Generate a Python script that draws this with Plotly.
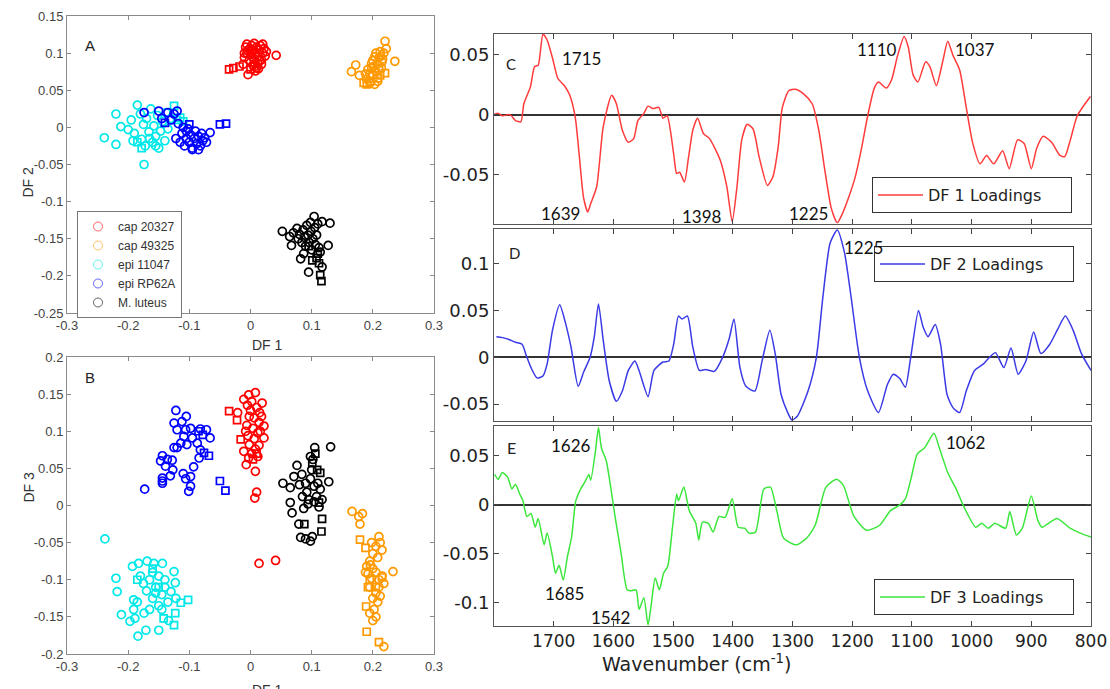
import plotly.graph_objects as go

W, H = 1110, 689

# ---------------- scatter data (DF1, DF2) panel A ----------------
a_cap20327 = [(-0.012,0.085),(-0.010,0.094),(-0.006,0.100),(-0.008,0.108),(-0.004,0.104),(0.000,0.098),(0.002,0.110),
              (0.004,0.104),(0.006,0.092),(0.008,0.100),(0.010,0.108),(0.012,0.096),(0.014,0.104),(0.016,0.110),
              (0.018,0.091),(0.020,0.100),(0.022,0.106),(0.024,0.096),(0.026,0.102),(0.012,0.086),(0.004,0.084),
              (-0.002,0.090),(-0.004,0.071),(0.008,0.076),(0.010,0.080),(0.042,0.097),(-0.006,0.112),(0.020,0.112),
              (0.015,0.090),(0.003,0.095),(-0.010,0.100),(0.018,0.085),(0.006,0.113),(-0.001,0.106),(0.013,0.079)]
a_cap20327_sq = [(-0.035,0.078),(-0.028,0.080),(-0.018,0.082),(0.000,0.078),(0.006,0.082)]
a_cap49325 = [(0.165,0.075),(0.172,0.084),(0.178,0.070),(0.190,0.065),(0.195,0.072),(0.198,0.080),(0.200,0.090),
              (0.203,0.058),(0.205,0.075),(0.207,0.085),(0.210,0.094),(0.212,0.102),(0.214,0.080),(0.216,0.092),
              (0.218,0.100),(0.220,0.116),(0.222,0.106),(0.236,0.089),(0.192,0.078),(0.200,0.070),(0.210,0.078),
              (0.205,0.100),(0.215,0.088),(0.188,0.072),(0.198,0.086),(0.203,0.095),(0.196,0.060),(0.208,0.062),
              (0.213,0.096),(0.201,0.082)]
a_cap49325_sq = [(0.185,0.060),(0.220,0.073),(0.208,0.066),(0.195,0.062),(0.212,0.070),(0.190,0.058)]
a_epi11047 = [(-0.239,-0.014),(-0.220,-0.023),(-0.220,0.018),(-0.212,0.001),(-0.174,-0.050),(-0.200,-0.003),
              (-0.195,0.010),(-0.190,-0.008),(-0.185,0.030),(-0.180,0.018),(-0.178,-0.016),(-0.175,0.004),
              (-0.172,-0.025),(-0.170,0.012),(-0.166,-0.006),(-0.163,0.025),(-0.160,-0.020),(-0.158,0.002),
              (-0.155,-0.012),(-0.152,0.016),(-0.150,-0.028),(-0.147,-0.005),(-0.144,0.008),(-0.140,-0.018),
              (-0.138,0.020),(-0.135,-0.002),(-0.130,0.012),(-0.165,-0.015),(-0.155,-0.025),(-0.192,-0.018)]
a_epi11047_sq = [(-0.125,0.029),(-0.120,0.010),(-0.115,0.013),(-0.185,-0.020),(-0.178,-0.028),(-0.110,0.008)]
a_epiRP62A = [(-0.174,0.020),(-0.150,0.022),(-0.145,0.012),(-0.135,0.020),(-0.130,0.010),(-0.125,0.018),
              (-0.120,0.022),(-0.118,0.005),(-0.122,-0.015),(-0.115,-0.020),(-0.112,-0.008),(-0.108,-0.025),
              (-0.105,-0.015),(-0.102,-0.002),(-0.100,-0.020),(-0.098,-0.010),(-0.095,-0.028),(-0.092,-0.015),
              (-0.090,-0.005),(-0.088,-0.022),(-0.085,-0.012),(-0.082,-0.025),(-0.080,-0.008),(-0.078,-0.018),
              (-0.075,-0.014),(-0.072,-0.020),(-0.066,-0.007),(-0.110,0.000),(-0.095,-0.030),(-0.085,-0.030),
              (-0.105,-0.005)]
a_epiRP62A_sq = [(-0.140,0.006),(-0.050,0.004),(-0.040,0.005),(-0.100,0.004)]
a_mluteus = [(0.052,-0.140),(0.064,-0.147),(0.067,-0.159),(0.070,-0.142),(0.076,-0.136),(0.078,-0.150),(0.080,-0.144),
             (0.082,-0.177),(0.084,-0.155),(0.086,-0.138),(0.087,-0.170),(0.088,-0.148),(0.090,-0.160),(0.092,-0.132),
             (0.094,-0.145),(0.095,-0.195),(0.096,-0.155),(0.098,-0.128),(0.099,-0.140),(0.100,-0.165),(0.102,-0.150),
             (0.104,-0.120),(0.105,-0.135),(0.106,-0.158),(0.108,-0.145),(0.110,-0.130),(0.112,-0.162),(0.114,-0.168),
             (0.117,-0.127),(0.117,-0.188),(0.127,-0.159),(0.130,-0.129)]
a_mluteus_sq = [(0.101,-0.179),(0.108,-0.176),(0.112,-0.183),(0.114,-0.199),(0.116,-0.207),(0.110,-0.170),(0.095,-0.160)]

# ---------------- scatter data (DF1, DF3) panel B ----------------
b_cap20327 = [(-0.021,0.125),(-0.011,0.143),(-0.003,0.149),(0.008,0.152),(0.019,0.138),(0.015,0.125),(0.022,0.107),
              (0.022,0.091),(0.014,0.081),(-0.011,0.073),(-0.003,0.064),(-0.007,0.055),(0.008,0.046),(0.010,0.018),
              (0.007,0.010),(0.014,-0.078),(0.041,-0.074),(-0.005,0.135),(0.002,0.140),(0.010,0.132),(-0.002,0.120),
              (0.006,0.118),(0.014,0.112),(-0.006,0.108),(0.004,0.104),(0.012,0.098),(-0.004,0.094),(0.006,0.090),
              (0.016,0.100),(-0.002,0.082),(0.008,0.076),(0.002,0.070),(0.012,0.066),(-0.008,0.100),(0.000,0.128),
              (0.018,0.120)]
b_cap20327_sq = [(-0.035,0.127),(-0.022,0.115),(-0.016,0.089),(0.004,0.062),(0.010,0.070)]
b_cap49325 = [(0.166,-0.008),(0.177,-0.015),(0.183,-0.011),(0.179,-0.025),(0.233,-0.089),(0.218,-0.190),(0.210,-0.042),
              (0.212,-0.050),(0.205,-0.055),(0.198,-0.050),(0.215,-0.060),(0.200,-0.065),(0.208,-0.070),(0.195,-0.075),
              (0.190,-0.082),(0.200,-0.085),(0.192,-0.092),(0.198,-0.098),(0.205,-0.090),(0.215,-0.095),(0.218,-0.105),
              (0.210,-0.110),(0.195,-0.110),(0.205,-0.118),(0.200,-0.125),(0.212,-0.122),(0.208,-0.130),(0.202,-0.140),
              (0.205,-0.150),(0.200,-0.155),(0.195,-0.145),(0.210,-0.100),(0.188,-0.090),(0.196,-0.080)]
b_cap49325_sq = [(0.179,-0.046),(0.188,-0.057),(0.189,-0.136),(0.190,-0.170),(0.210,-0.184),(0.215,-0.097),
                 (0.195,-0.100),(0.205,-0.110),(0.192,-0.110)]
b_epi11047 = [(-0.238,-0.045),(-0.220,-0.098),(-0.218,-0.116),(-0.211,-0.147),(-0.197,-0.156),(-0.191,-0.140),
              (-0.189,-0.152),(-0.184,-0.176),(-0.171,-0.168),(-0.150,-0.168),(-0.193,-0.082),(-0.183,-0.078),
              (-0.169,-0.075),(-0.158,-0.078),(-0.144,-0.078),(-0.125,-0.089),(-0.123,-0.104),(-0.130,-0.116),
              (-0.122,-0.125),(-0.134,-0.155),(-0.174,-0.145),(-0.191,-0.127),(-0.180,-0.095),(-0.175,-0.105),
              (-0.165,-0.100),(-0.160,-0.090),(-0.155,-0.110),(-0.150,-0.095),(-0.145,-0.120),(-0.140,-0.100),
              (-0.135,-0.130),(-0.160,-0.125),(-0.170,-0.115),(-0.150,-0.135),(-0.145,-0.140),(-0.185,-0.130),
              (-0.165,-0.140),(-0.155,-0.118),(-0.140,-0.110)]
b_epi11047_sq = [(-0.114,-0.131),(-0.102,-0.127),(-0.123,-0.145),(-0.125,-0.161),(-0.142,-0.152),(-0.185,-0.100),
                 (-0.160,-0.085),(-0.150,-0.110)]
b_epiRP62A = [(-0.122,0.128),(-0.105,0.120),(-0.125,0.111),(-0.112,0.113),(-0.120,0.102),(-0.106,0.102),(-0.098,0.104),
              (-0.082,0.103),(-0.072,0.102),(-0.066,0.091),(-0.109,0.093),(-0.095,0.091),(-0.087,0.084),(-0.114,0.084),
              (-0.104,0.082),(-0.125,0.078),(-0.120,0.078),(-0.082,0.075),(-0.144,0.067),(-0.147,0.060),(-0.136,0.062),
              (-0.128,0.061),(-0.139,0.053),(-0.127,0.048),(-0.131,0.040),(-0.144,0.037),(-0.144,0.033),(-0.144,0.030),
              (-0.110,0.043),(-0.106,0.036),(-0.098,0.039),(-0.093,0.052),(-0.084,0.064),(-0.098,0.026),(-0.101,0.019),
              (-0.173,0.022)]
b_epiRP62A_sq = [(-0.050,0.033),(-0.041,0.020),(-0.076,0.071),(-0.068,0.067),(-0.085,0.100),(-0.078,0.095)]
b_mluteus = [(0.105,0.078),(0.131,0.079),(0.128,0.032),(0.053,0.030),(0.065,0.024),(0.071,0.039),(0.076,0.054),
             (0.084,0.042),(0.090,0.030),(0.098,0.066),(0.104,0.026),(0.114,0.022),(0.117,0.008),(0.065,0.004),
             (0.068,-0.010),(0.079,-0.025),(0.082,-0.043),(0.090,-0.045),(0.098,-0.048),(0.101,-0.042),(0.087,-0.004),
             (0.104,0.005),(0.092,0.018),(0.098,0.036),(0.108,0.012),(0.095,0.008),(0.100,0.048),(0.110,0.030),
             (0.085,0.012),(0.102,0.062),(0.094,0.002),(0.112,-0.002),(0.080,0.028)]
b_mluteus_sq = [(0.101,0.057),(0.109,0.048),(0.114,0.044),(0.088,-0.025),(0.117,-0.018),(0.116,-0.035),(0.106,0.070),
                (0.112,0.004)]

group_names = ["cap 20327", "cap 49325", "epi 11047", "epi RP62A", "M. luteus"]
group_colors = ["#ff0000", "#ff9900", "#00e8e8", "#0000ff", "#000000"]

# ---------------- loadings spectra ----------------
wn_df1 = [1800,1793,1786,1775,1771,1764,1755,1750,1739,1732,1726,1718,1711,1702,1693,1682,1673,1664,1657,1650,
          1643,1638,1628,1617,1603,1595,1585,1575,1566,1559,1549,1542,1534,1524,1517,1510,1499,1494,1489,1481,
          1474,1467,1459,1449,1439,1421,1410,1401,1393,1385,1376,1366,1356,1342,1333,1324,1317,1306,1295,1281,
          1267,1256,1245,1235,1225,1217,1206,1195,1184,1174,1163,1156,1143,1134,1124,1113,1106,1098,1090,1077,
          1070,1059,1048,1040,1031,1020,1009,998,986,975,963,948,937,923,912,900,891,880,866,852,
          844,834,823,801]
df1 = [0.000,0.001,-0.001,0.000,-0.001,-0.005,-0.006,0.009,0.023,0.040,
       0.041,0.067,0.062,0.047,0.030,0.024,0.016,-0.002,-0.035,-0.069,
       -0.081,-0.074,-0.060,-0.010,0.016,0.009,-0.013,-0.023,-0.020,-0.005,
       0.001,0.007,0.005,0.006,-0.003,-0.001,-0.033,-0.049,-0.048,-0.056,
       -0.035,-0.013,-0.003,-0.016,-0.020,-0.038,-0.060,-0.089,-0.060,-0.021,
       -0.008,-0.012,-0.035,-0.059,-0.052,-0.027,0.006,0.020,0.021,0.017,
       0.009,-0.013,-0.049,-0.078,-0.090,-0.083,-0.069,-0.052,-0.027,-0.001,
       0.022,0.027,0.022,0.029,0.049,0.065,0.056,0.033,0.027,0.044,
       0.040,0.024,0.045,0.061,0.049,0.037,0.006,-0.024,-0.041,-0.034,
       -0.041,-0.030,-0.045,-0.021,-0.024,-0.045,-0.028,-0.018,-0.023,-0.034,
       -0.035,-0.020,-0.001,0.015]

wn_df2 = [1796,1786,1775,1764,1753,1746,1738,1728,1718,1711,1702,1690,1680,1671,1659,1650,1639,1632,1625,1617,
          1607,1595,1585,1575,1564,1557,1542,1532,1517,1507,1499,1491,1485,1476,1467,1456,1446,1431,1417,1406,
          1398,1388,1378,1363,1351,1338,1329,1319,1308,1301,1292,1274,1260,1249,1237,1225,1213,1202,1188,1174,
          1156,1141,1131,1120,1111,1102,1089,1081,1073,1061,1052,1041,1031,1020,1009,995,980,970,960,946,
          934,922,909,896,884,869,855,843,830,816,800]
df2 = [0.022,0.021,0.019,0.016,0.014,0.002,-0.011,-0.022,-0.020,-0.007,
       0.029,0.056,0.036,0.011,-0.031,-0.016,0.000,0.022,0.057,0.018,
       -0.025,-0.047,-0.036,-0.014,-0.004,-0.014,-0.042,-0.014,-0.005,-0.004,
       0.014,0.044,0.041,0.044,0.011,-0.014,-0.013,-0.015,0.000,0.020,
       0.041,-0.011,-0.031,-0.036,-0.004,0.029,0.004,-0.040,-0.059,-0.067,
       -0.063,-0.036,0.000,0.065,0.122,0.136,0.112,0.065,0.000,-0.036,
       -0.059,-0.029,-0.018,-0.023,-0.032,0.000,0.050,0.032,0.022,0.035,
       0.014,-0.040,-0.054,-0.059,-0.036,-0.014,-0.007,0.000,0.005,-0.011,
       0.010,-0.018,-0.004,0.027,0.004,0.014,0.031,0.044,0.029,0.004,
       -0.014]

wn_df3 = [1799,1793,1786,1777,1770,1764,1757,1752,1745,1738,1731,1726,1716,1711,1702,1697,1691,1684,1677,1670,
          1663,1655,1648,1641,1638,1630,1625,1620,1612,1605,1598,1587,1577,1570,1562,1557,1549,1542,1537,1530,
          1523,1516,1509,1501,1494,1491,1482,1473,1462,1457,1451,1441,1433,1423,1413,1401,1391,1380,1373,1362,
          1348,1337,1326,1315,1294,1276,1262,1244,1226,1215,1197,1176,1154,1136,1122,1111,1101,1091,1079,1063,
          1054,1040,1025,1013,993,983,972,961,943,936,925,915,900,889,882,857,835,818,800]
df3 = [0.031,0.026,0.033,0.028,0.016,0.021,0.011,0.005,-0.012,-0.009,
       -0.023,-0.014,-0.041,-0.029,-0.053,-0.070,-0.062,-0.077,-0.053,-0.033,
       0.004,0.016,0.023,0.031,0.025,0.055,0.079,0.058,0.045,0.020,
       -0.009,-0.050,-0.087,-0.088,-0.087,-0.107,-0.095,-0.123,-0.104,-0.075,
       -0.087,-0.070,-0.063,-0.023,0.011,0.004,0.018,-0.006,-0.019,-0.036,
       -0.018,-0.019,-0.028,-0.012,-0.013,0.006,-0.023,-0.024,-0.029,-0.028,
       0.016,0.018,-0.007,-0.034,-0.041,-0.034,-0.021,0.018,0.026,0.020,
       -0.012,-0.026,-0.021,-0.006,-0.001,0.006,0.028,0.052,0.058,0.073,
       0.058,0.033,0.015,-0.002,-0.023,-0.019,-0.024,-0.019,-0.024,-0.007,
       -0.031,-0.024,0.009,-0.016,-0.023,-0.014,-0.024,-0.029,-0.033]

# peak labels: (text, wavenumber position, value position)
peaks_df1 = [("1715", 1653, 0.047), ("1639", 1688, -0.082), ("1398", 1451, -0.085),
             ("1225", 1274, -0.082), ("1110", 1158, 0.054), ("1037", 995, 0.054)]
peaks_df2 = [("1225", 1181, 0.117)]
peaks_df3 = [("1626", 1671, 0.061), ("1685", 1682, -0.091), ("1542", 1605, -0.115), ("1062", 1010, 0.064)]

left_xticks = [-0.3, -0.2, -0.1, 0, 0.1, 0.2, 0.3]
a_yticks = [-0.25, -0.2, -0.15, -0.1, -0.05, 0, 0.05, 0.1, 0.15]
b_yticks = [-0.2, -0.15, -0.1, -0.05, 0, 0.05, 0.1, 0.15, 0.2]
wn_ticks = [1700, 1600, 1500, 1400, 1300, 1200, 1100, 1000, 900, 800]
c_yticks = [-0.05, 0, 0.05]
d_yticks = [-0.05, 0, 0.05, 0.1]
e_yticks = [-0.1, -0.05, 0, 0.05]


def fmt(v):
    return "%g" % v


def pxx(x):
    return x / W


def pxy(y):
    return 1 - y / H


fig = go.Figure()

a_sets = [(a_cap20327, a_cap20327_sq), (a_cap49325, a_cap49325_sq), (a_epi11047, a_epi11047_sq),
          (a_epiRP62A, a_epiRP62A_sq), (a_mluteus, a_mluteus_sq)]
b_sets = [(b_cap20327, b_cap20327_sq), (b_cap49325, b_cap49325_sq), (b_epi11047, b_epi11047_sq),
          (b_epiRP62A, b_epiRP62A_sq), (b_mluteus, b_mluteus_sq)]

for sets, xa, ya in [(a_sets, "x", "y"), (b_sets, "x2", "y2")]:
    for (circ, sq), col in zip(sets, group_colors):
        fig.add_trace(go.Scatter(x=[p[0] for p in circ], y=[p[1] for p in circ], mode="markers",
                                 marker=dict(symbol="circle-open", size=8, color=col, line=dict(width=1.7, color=col)),
                                 xaxis=xa, yaxis=ya, showlegend=False, hoverinfo="skip"))
        fig.add_trace(go.Scatter(x=[p[0] for p in sq], y=[p[1] for p in sq], mode="markers",
                                 marker=dict(symbol="square-open", size=7, color=col, line=dict(width=1.7, color=col)),
                                 xaxis=xa, yaxis=ya, showlegend=False, hoverinfo="skip"))

for name, col in zip(group_names, group_colors):
    fig.add_trace(go.Scatter(x=[None], y=[None], mode="markers", name=name,
                             marker=dict(symbol="circle-open", size=9, color=col, opacity=0.6,
                                         line=dict(width=1, color=col)),
                             xaxis="x", yaxis="y", legend="legend"))

fig.add_trace(go.Scatter(x=wn_df1, y=df1, mode="lines", name="DF 1 Loadings",
                         line=dict(color="#ff3b3b", width=1.5, shape="spline", smoothing=0.6),
                         xaxis="x3", yaxis="y3", legend="legend2"))
fig.add_trace(go.Scatter(x=wn_df2, y=df2, mode="lines", name="DF 2 Loadings",
                         line=dict(color="#3a3ae6", width=1.5, shape="spline", smoothing=0.6),
                         xaxis="x4", yaxis="y4", legend="legend3"))
fig.add_trace(go.Scatter(x=wn_df3, y=df3, mode="lines", name="DF 3 Loadings",
                         line=dict(color="#3ce63c", width=1.5, shape="spline", smoothing=0.6),
                         xaxis="x5", yaxis="y5", legend="legend4"))

left_font = dict(family="Liberation Sans, Arial", size=13, color="#444")
right_yfont = dict(family="DejaVu Sans", size=18, color="#222")
right_xfont = dict(family="DejaVu Sans", size=17, color="#222")


def left_axis(domain, rng, ticks, anchor):
    return dict(domain=domain, range=rng, tickvals=ticks, ticktext=[fmt(t) for t in ticks],
                ticks="inside", ticklen=4, tickcolor="#888", showline=True, linecolor="#8a8a8a",
                linewidth=1, mirror="ticks", showgrid=False, zeroline=False, tickfont=left_font,
                anchor=anchor)


def right_y(domain, rng, ticks, anchor):
    return dict(domain=domain, range=rng, tickvals=ticks, ticktext=[fmt(t) for t in ticks],
                ticks="inside", ticklen=5, tickcolor="#444", showline=True, linecolor="#555",
                linewidth=1, mirror="ticks", showgrid=False, zeroline=True, zerolinecolor="#333",
                zerolinewidth=1.5, tickfont=right_yfont, anchor=anchor)


def right_x(domain, anchor, labels):
    return dict(domain=domain, range=[1800, 800], tickvals=wn_ticks, ticktext=[str(t) for t in wn_ticks],
                ticks="inside", ticklen=5, tickcolor="#444", showline=True, linecolor="#555",
                linewidth=1, mirror="ticks", showgrid=False, zeroline=False, tickfont=right_xfont,
                showticklabels=labels, anchor=anchor)


xl = [67 / W, 434 / W]
xr = [494 / W, 1091 / W]

legend_common = dict(bgcolor="white", bordercolor="#333", borderwidth=1, xanchor="left", yanchor="top",
                     orientation="h", entrywidth=138, itemwidth=45,
                     font=dict(family="DejaVu Sans", size=16, color="#222"))

fig.update_layout(
    width=W, height=H, autosize=False, margin=dict(l=0, r=0, t=0, b=0, autoexpand=False),
    paper_bgcolor="white", plot_bgcolor="white",
    xaxis=left_axis(xl, [-0.3, 0.3], left_xticks, "y"),
    yaxis=left_axis([pxy(313), pxy(16)], [-0.25, 0.15], a_yticks, "x"),
    xaxis2=left_axis(xl, [-0.3, 0.3], left_xticks, "y2"),
    yaxis2=left_axis([pxy(654), pxy(357)], [-0.2, 0.2], b_yticks, "x2"),
    xaxis3=right_x(xr, "y3", False),
    yaxis3=right_y([pxy(224), pxy(34)], [-0.091, 0.067], c_yticks, "x3"),
    xaxis4=right_x(xr, "y4", False),
    yaxis4=right_y([pxy(421), pxy(229)], [-0.068, 0.137], d_yticks, "x4"),
    xaxis5=right_x(xr, "y5", True),
    yaxis5=right_y([pxy(626), pxy(426)], [-0.124, 0.0805], e_yticks, "x5"),
    legend=dict(x=pxx(77), y=pxy(211), xanchor="left", yanchor="top", bgcolor="white",
                bordercolor="#777", borderwidth=1, tracegroupgap=0,
                font=dict(family="Liberation Sans, Arial", size=12, color="#333")),
    legend2=dict(legend_common, x=pxx(872), y=pxy(177)),
    legend3=dict(legend_common, x=pxx(874), y=pxy(246)),
    legend4=dict(legend_common, x=pxx(874), y=pxy(579)),
)

ann = []
for txt, x, y, sz, fam in [("A", 83, 35, 15, "Liberation Sans, Arial"), ("B", 83, 378, 15, "Liberation Sans, Arial"),
                           ("C", 511, 53, 15, "Lato"), ("D", 514, 253, 15, "Lato"), ("E", 511, 447, 16, "Lato")]:
    ann.append(dict(text=txt, x=pxx(x), y=pxy(y), xref="paper", yref="paper", showarrow=False,
                    font=dict(family=fam, size=sz, color="#222")))
ann.append(dict(text="DF 1", x=pxx(250), y=pxy(345), xref="paper", yref="paper", showarrow=False,
                font=dict(family="Liberation Sans, Arial", size=14, color="#333")))
ann.append(dict(text="DF 1", x=pxx(250), y=pxy(680), xref="paper", yref="paper", showarrow=False, yanchor="top",
                font=dict(family="Liberation Sans, Arial", size=14, color="#333")))
ann.append(dict(text="DF 2", x=pxx(18), y=pxy(165), xref="paper", yref="paper", showarrow=False, textangle=-90,
                font=dict(family="Liberation Sans, Arial", size=14, color="#333")))
ann.append(dict(text="DF 3", x=pxx(18), y=pxy(505), xref="paper", yref="paper", showarrow=False, textangle=-90,
                font=dict(family="Liberation Sans, Arial", size=14, color="#333")))
ann.append(dict(text="Wavenumber (cm<sup>-1</sup>)", x=pxx(793), y=pxy(677), xref="paper", yref="paper",
                showarrow=False, font=dict(family="DejaVu Sans", size=19, color="#222")))
for peaks, xr_, yr_ in [(peaks_df1, "x3", "y3"), (peaks_df2, "x4", "y4"), (peaks_df3, "x5", "y5")]:
    for txt, xw, yv in peaks:
        ann.append(dict(text=txt, x=xw, y=yv, xref=xr_, yref=yr_, showarrow=False,
                        font=dict(family="Lato", size=17, color="#111")))
fig.update_layout(annotations=ann)

fig.write_html("out.html")
